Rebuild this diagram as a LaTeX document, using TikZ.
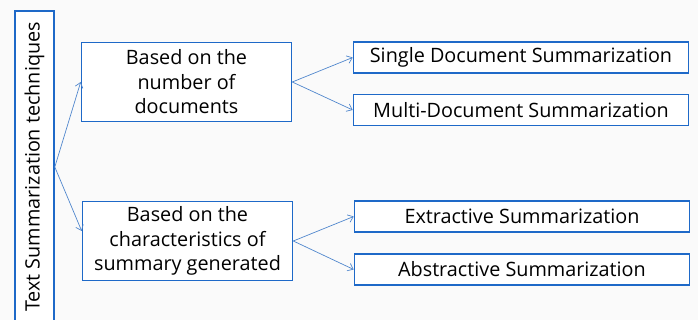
\documentclass[tikz,border=0pt]{standalone}
\usepackage{fontspec}
\setmainfont{Open Sans}
\usetikzlibrary{arrows.meta}
\definecolor{boxblue}{RGB}{30,105,200}
\definecolor{arrowblue}{RGB}{80,135,205}
\definecolor{paper}{RGB}{250,250,250}
\begin{document}
\begin{tikzpicture}
            [x=1pt, y=1pt,
             box/.style = {draw=boxblue, line width=1.6pt, fill=white, inner sep=2pt,
                           align=center, font=\fontsize{19.8}{24.5}\selectfont, text=black},
             leaf/.style = {box, minimum width=335pt, minimum height=31pt},
             branch/.style = {box, minimum width=210pt, minimum height=79pt},
             link/.style = {draw=arrowblue, line width=0.7pt, -{Straight Barb[length=5pt,width=8pt]}}]
            \useasboundingbox[fill=paper] (0,0) rectangle (698,-320);
            \node[box, rotate=90, minimum width=312pt, minimum height=39pt] (tech) at (34.5,-167) {Text Summarization techniques};
            \node[branch] (number) at (186.5,-82) {Based on the\\number of\\documents};
            \node[branch] (charac) at (187.5,-241) {Based on the\\characteristics of\\summary generated};
            \node[leaf] (single) at (521,-57.5) {Single Document Summarization};
            \node[leaf] (multi) at (521,-110) {Multi-Document Summarization};
            \node[leaf] (extract) at (522,-216.5) {Extractive Summarization};
            \node[leaf] (abstract) at (522,-269.5) {Abstractive Summarization};
            \draw[link] (tech.south) -- (number.west);
            \draw[link] (tech.south) -- ([yshift=10pt]charac.west);
            \draw[link] (number.east) -- (single.west);
            \draw[link] (number.east) -- (multi.west);
            \draw[link] (charac.east) -- (extract.west);
            \draw[link] (charac.east) -- (abstract.west);
        \end{tikzpicture}
\end{document}
